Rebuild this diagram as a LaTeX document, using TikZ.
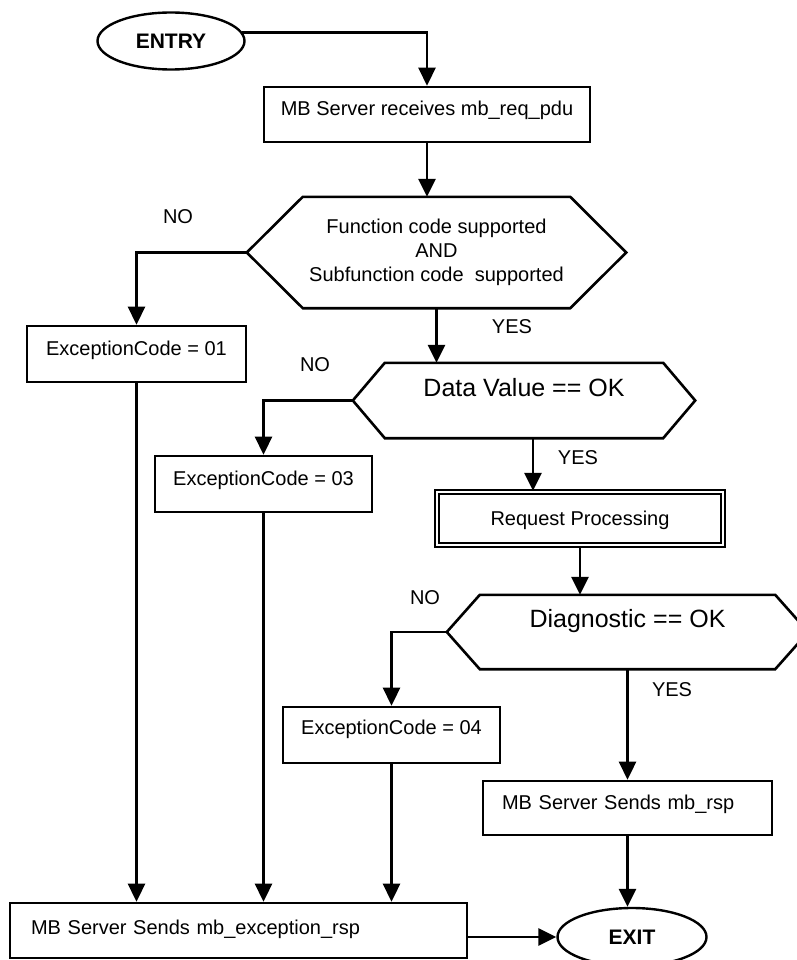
\documentclass[tikz,border=0pt]{standalone}
\usepackage{fontspec}
\setmainfont{Liberation Sans}
\usetikzlibrary{arrows.meta,shapes.geometric}

% contorno esagonale dei blocchi di decisione
\newcommand{\esagono}[2]{%
  \draw[linea] (#1.west) -- ([xshift=#2]#1.north west) -- ([xshift=-#2]#1.north east)
    -- (#1.east) -- ([xshift=-#2]#1.south east) -- ([xshift=#2]#1.south west) -- cycle;}

\begin{document}
\begin{tikzpicture}[x=1pt,y=1pt,
    linea/.style={line width=2.6pt},
    freccia/.style={linea,-{Triangle[length=18pt,width=17pt]}},
    blocco/.style={draw,linea,rectangle,inner sep=0pt,font=\fontsize{20}{24}\selectfont,text height=14.4pt,text depth=12pt},
    terminale/.style={draw,line width=2.4pt,ellipse,inner sep=0pt,font=\fontsize{21}{24}\selectfont\bfseries},
    decisione/.style={rectangle,inner sep=0pt,align=center},
    etichetta/.style={font=\fontsize{20}{24}\selectfont}]

    % Sfondo e dimensioni
    \fill[white] (0,0) rectangle (796,-960);
    \useasboundingbox (0,0) rectangle (796,-960);

    % Inizio e fine
    \node[terminale,minimum width=147pt,minimum height=57pt] (entry) at (171,-41) {ENTRY};
    \node[terminale,minimum width=149pt,minimum height=58pt] (exit) at (632,-937) {EXIT};

    % Blocchi di elaborazione
    \node[blocco,minimum width=326pt,minimum height=55pt,text depth=13pt] (recv) at (427,-114.5) {MB Server receives mb\_req\_pdu};
    \node[blocco,minimum width=219pt,minimum height=56pt] (ex01) at (136.5,-354) {ExceptionCode = 01};
    \node[blocco,minimum width=217pt,minimum height=56pt] (ex03) at (263.5,-484) {ExceptionCode = 03};
    \node[blocco,double,double distance=1.6pt,line width=2.4pt,minimum width=286pt,minimum height=53pt,text depth=0pt] (rp) at (580,-518.5) {Request Processing};
    \node[blocco,minimum width=217pt,minimum height=56pt,text depth=16pt] (ex04) at (391.5,-735) {ExceptionCode = 04};
    \node[blocco,minimum width=289pt,minimum height=54pt,inner xsep=19pt,text width=251pt,align=left] (rsp) at (627.5,-808) {MB Server Sends mb\_rsp};
    \node[blocco,minimum width=457pt,minimum height=55pt,inner xsep=21pt,text width=415pt,align=left,text depth=7pt] (exc) at (238.5,-930.5) {MB Server Sends mb\_exception\_rsp};

    % Decisioni
    \node[decisione,minimum width=379pt,minimum height=111pt,font=\fontsize{20}{24}\selectfont] (d1) at (436.5,-252.5) {Function code supported\\AND\\Subfunction code\ \ supported};
    \node[decisione,minimum width=342pt,minimum height=75pt,font=\fontsize{25}{30}\selectfont,text height=18pt,text depth=27pt] (d2) at (524,-400.5) {Data Value == OK};
    \node[decisione,minimum width=361pt,minimum height=74pt,font=\fontsize{25}{30}\selectfont,text height=18pt,text depth=28pt] (d3) at (627.5,-632) {Diagnostic == OK};
    \esagono{d1}{56pt}
    \esagono{d2}{32pt}
    \esagono{d3}{33pt}

    % Etichette dei rami
    \node[etichetta] (no1) at (178,-217) {NO};
    \node[etichetta] (si1) at (512,-327) {YES};
    \node[etichetta] (no2) at (315,-365) {NO};
    \node[etichetta] (si2) at (578,-458) {YES};
    \node[etichetta] (no3) at (425,-598) {NO};
    \node[etichetta] (si3) at (672,-690) {YES};

    % Collegamenti
    \coordinate (d2out) at ([xshift=9pt]d2.south);
    \draw[freccia] (entry.7) -| (recv.north);
    \draw[freccia] (recv.south) -- (recv.south |- d1.north);
    \draw[freccia] (d1.west) -| (ex01.north);
    \draw[freccia] (d1.south) -- (d1.south |- d2.north);
    \draw[freccia] (d2.west) -| (ex03.north);
    \draw[freccia] (d2out) -- (d2out |- rp.north);
    \draw[freccia] (rp.south) -- (rp.south |- d3.north);
    \draw[freccia] (d3.west) -| (ex04.north);
    \draw[freccia] (d3.south) -- (d3.south |- rsp.north);
    \draw[freccia] (rsp.south) -- (rsp.south |- exit.north);
    \draw[freccia] (ex01.south) -- (ex01.south |- exc.north);
    \draw[freccia] (ex03.south) -- (ex03.south |- exc.north);
    \draw[freccia] (ex04.south) -- (ex04.south |- exc.north);
    \draw[freccia] (exc.east |- exit.west) -- (exit.west);
\end{tikzpicture}
\end{document}
